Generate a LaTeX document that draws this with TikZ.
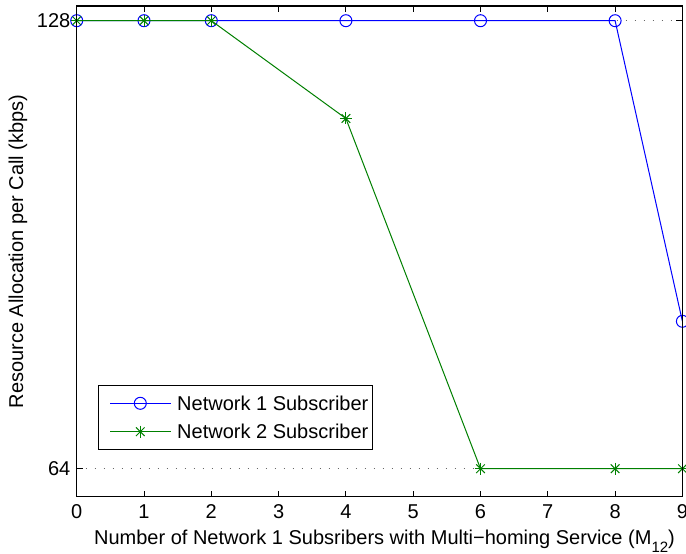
\documentclass[tikz,border=0pt]{standalone}
\usepackage{fontspec}
\setmainfont{Liberation Sans}
\usetikzlibrary{calc}
\begin{document}
\begin{tikzpicture}[x=1bp,y=-1bp,
  every node/.style={font=\fontsize{20bp}{23bp}\selectfont, inner sep=0pt},
  axisline/.style={line width=1.2bp, black},
  gridline/.style={line width=0.8bp, black!60, dash pattern=on 1bp off 8bp},
  tickline/.style={line width=1bp, black},
  net1/.style={line width=1bp, blue},
  net2/.style={line width=1bp, green!50!black},
  circmark/.style={line width=1bp, blue},
  starmark/.style={line width=1bp, green!50!black}]
\useasboundingbox (0,0) rectangle (686,554);
\fill[white] (0,0) rectangle (686,554);
% axis frame coordinates
\coordinate (tl) at (76.7,6);
\coordinate (tr) at (682.4,6);
\coordinate (bl) at (76.7,496.7);
\coordinate (br) at (682.4,496.7);
% grid
\coordinate (g1l) at (76.7,20.7);
\coordinate (g1r) at (682.4,20.7);
\coordinate (g2l) at (76.7,468.7);
\coordinate (g2r) at (682.4,468.7);
\draw[gridline] (g1l) -- (g1r);
\draw[gridline] (g2l) -- (g2r);
% ticks
\foreach \i in {0,...,9}{
  \pgfmathsetmacro{\xx}{76.7+67.3*\i}
  \draw[tickline] (\xx,496.7) -- (\xx,490.7);
  \draw[tickline] (\xx,6) -- (\xx,12);
  \node[anchor=base] (xt\i) at (\xx,518) {\i};
}
\draw[tickline] (76.7,20.7) -- (82.7,20.7);
\draw[tickline] (682.4,20.7) -- (676.4,20.7);
\draw[tickline] (76.7,468.7) -- (82.7,468.7);
\draw[tickline] (682.4,468.7) -- (676.4,468.7);
\node[anchor=east] (yt128) at (70.5,20.7) {128};
\node[anchor=east] (yt64) at (70.5,468.7) {64};
% data points
\coordinate (a0) at (76.7,20.7);
\coordinate (a1) at (144.0,20.7);
\coordinate (a2) at (211.3,20.7);
\coordinate (a4) at (345.9,20.7);
\coordinate (a6) at (480.5,20.7);
\coordinate (a8) at (615.1,20.7);
\coordinate (a9) at (682.4,321.3);
\coordinate (b0) at (76.7,20.7);
\coordinate (b1) at (144.0,20.7);
\coordinate (b2) at (211.3,20.7);
\coordinate (b4) at (345.9,118.5);
\coordinate (b6) at (480.5,468.7);
\coordinate (b8) at (615.1,468.7);
\coordinate (b9) at (682.4,468.7);
\draw[net1] (a0) -- (a1) -- (a2) -- (a4) -- (a6) -- (a8) -- (a9);
\foreach \p in {a0,a1,a2,a4,a6,a8,a9}{
  \draw[circmark] (\p) circle (6);
}
\draw[net2] (b0) -- (b1) -- (b2) -- (b4) -- (b6) -- (b8) -- (b9);
\foreach \p in {b0,b1,b2,b4,b6,b8,b9}{
  \draw[starmark] ($(\p)+(-6,0)$) -- ($(\p)+(6,0)$);
  \draw[starmark] ($(\p)+(0,-6)$) -- ($(\p)+(0,6)$);
  \draw[starmark] ($(\p)+(-4.3,-4.3)$) -- ($(\p)+(4.3,4.3)$);
  \draw[starmark] ($(\p)+(-4.3,4.3)$) -- ($(\p)+(4.3,-4.3)$);
}
% axes frame
\draw[axisline] (tl) -- (tr) -- (br) -- (bl) -- cycle;
% legend
\draw[line width=1bp, fill=white] (98.3,385) rectangle (372.7,449);
\coordinate (l1a) at (110,403.3);
\coordinate (l1b) at (170.7,403.3);
\coordinate (l1m) at (140.3,403.3);
\coordinate (l2a) at (110,431.7);
\coordinate (l2b) at (170.7,431.7);
\coordinate (l2m) at (140.3,431.7);
\draw[net1] (l1a) -- (l1b);
\draw[circmark] (l1m) circle (6);
\draw[net2] (l2a) -- (l2b);
\draw[starmark] ($(l2m)+(-6,0)$) -- ($(l2m)+(6,0)$);
\draw[starmark] ($(l2m)+(0,-6)$) -- ($(l2m)+(0,6)$);
\draw[starmark] ($(l2m)+(-4.3,-4.3)$) -- ($(l2m)+(4.3,4.3)$);
\draw[starmark] ($(l2m)+(-4.3,4.3)$) -- ($(l2m)+(4.3,-4.3)$);
\node[anchor=west] (lt1) at (177,403.3) {Network 1 Subscriber};
\node[anchor=west] (lt2) at (177,431.7) {Network 2 Subscriber};
% axis labels
\node[anchor=base] (xlab) at (384.5,544) {Number of Network 1 Subsribers with Multi−homing Service (M\raisebox{-0.4em}{\fontsize{15bp}{17bp}\selectfont 12})};
\node[rotate=90] (ylab) at (18,251.5) {Resource Allocation per Call (kbps)};
\end{tikzpicture}
\end{document}
